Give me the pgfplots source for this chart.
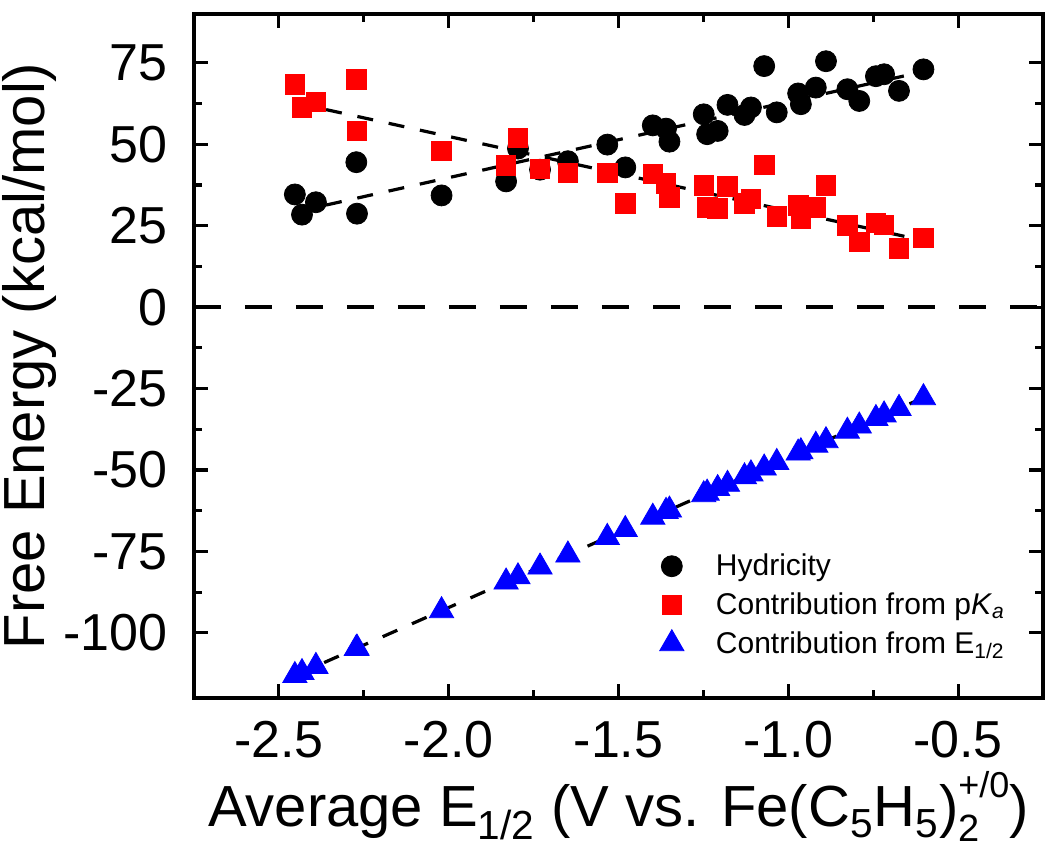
\documentclass[border=0pt]{standalone}
\usepackage{pgfplots}
\pgfplotsset{compat=1.18}
\usepackage{pgfplotstable}
\usepackage{fontspec}
\setmainfont{Liberation Sans}

\pgfplotstableread{
x c s e
-2.453 34.6 68.4 -113.1
-2.432 28.4 61.3 -112.2
-2.391 32.2 63.0 -110.3
-2.272 44.5 69.9 -104.8
-2.270 28.7 54.1 -104.7
-2.021 34.3 48.0 -93.2
-1.831 38.6 43.6 -84.4
-1.796 48.7 52.0 -82.8
-1.731 42.2 42.4 -79.8
-1.649 44.8 41.2 -76.1
-1.533 49.9 41.2 -70.7
-1.480 42.9 31.8 -68.3
-1.399 55.8 40.9 -64.5
-1.360 54.8 38.0 -62.7
-1.350 50.8 33.6 -62.3
-1.249 59.2 37.3 -57.6
-1.239 53.1 30.7 -57.1
-1.208 54.1 30.4 -55.7
-1.179 62.1 37.0 -54.4
-1.129 59.0 31.9 -52.1
-1.110 61.3 33.2 -51.2
-1.071 74.0 43.7 -49.4
-1.034 59.8 27.9 -47.7
-0.971 65.6 31.2 -44.8
-0.963 62.3 27.1 -44.4
-0.919 67.4 30.7 -42.4
-0.889 75.5 37.3 -41.0
-0.826 66.9 25.1 -38.1
-0.791 63.3 20.0 -36.5
-0.742 70.9 25.9 -34.2
-0.718 71.5 25.3 -33.1
-0.674 66.4 18.0 -31.1
-0.602 73.0 21.2 -27.8
}\data

\begin{document}
\begin{tikzpicture}
\useasboundingbox (-97pt,-76pt) rectangle (425.5pt,349pt);
\begin{axis}[
  at={(0,0)}, anchor=south west,
  scale only axis, width=424.5pt, height=342pt,
  xmin=-2.75, xmax=-0.25, ymin=-120, ymax=90,
  xtick={-2.5,-2,-1.5,-1,-0.5},
  xticklabels={-2.5,-2.0,-1.5,-1.0,-0.5},
  ytick={-100,-75,-50,-25,0,25,50,75},
  yticklabels={-100,-75,-50,-25,0,25,50,75},
  minor x tick num=1, minor y tick num=1,
  tick align=inside,
  major tick length=7pt, minor tick length=3.8pt,
  every tick/.style={black, line width=1.6pt},
  axis line style={line width=2pt},
  tick label style={font=\fontsize{26}{30}\selectfont},
  xticklabel style={anchor=base, yshift=-30pt},
  yticklabel style={anchor=east, inner xsep=0pt, xshift=-13pt},
  label style={font=\fontsize{29}{34}\selectfont},
  xlabel style={at={(axis description cs:0.5,0)}, anchor=base, yshift=-64.5pt},
  xlabel={Average E\textsubscript{1/2} (V vs. Fe(C\textsubscript{5}H\textsubscript{5})\makebox[0pt][l]{\raisebox{-0.25em}{\fontsize{19}{19}\selectfont 2}}\raisebox{0.5em}{\fontsize{18}{18}\selectfont +/0})},
  ylabel={Free Energy (kcal/mol)},
  legend style={draw=none, fill=none, font=\fontsize{15}{18}\selectfont,
    at={(0.541,0.223)}, anchor=north west, row sep=3pt,
    /tikz/every odd column/.append style={column sep=14pt}},
  legend cell align=left,
]
\addplot[only marks, mark=*, mark size=5.25pt, black] table[x=x,y=c]{\data};
\addlegendentry{Hydricity}
\addplot[only marks, mark=square*, mark size=4.9pt, red] table[x=x,y=s]{\data};
\addlegendentry{Contribution from p\textit{K}\textsubscript{\textit{a}}}
\addplot[only marks, mark=triangle*, mark size=7pt, blue] table[x=x,y=e]{\data};
\addlegendentry{Contribution from E\textsubscript{1/2}}
\addplot[black, line width=2pt, dash pattern=on 13.5pt off 12pt, forget plot] coordinates {(-2.75,0) (-0.25,0)};
\addplot[black, line width=1.6pt, dash pattern=on 8pt off 8pt, forget plot] coordinates {(-2.453,29.2) (-0.602,72.3)};
\addplot[black, line width=1.6pt, dash pattern=on 8pt off 8pt, forget plot] coordinates {(-2.453,62.75) (-0.602,20.46)};
\addplot[black, line width=1.6pt, dash pattern=on 8pt off 8pt, forget plot] coordinates {(-2.453,-113.1) (-0.602,-27.8)};
\end{axis}
\end{tikzpicture}
\end{document}
